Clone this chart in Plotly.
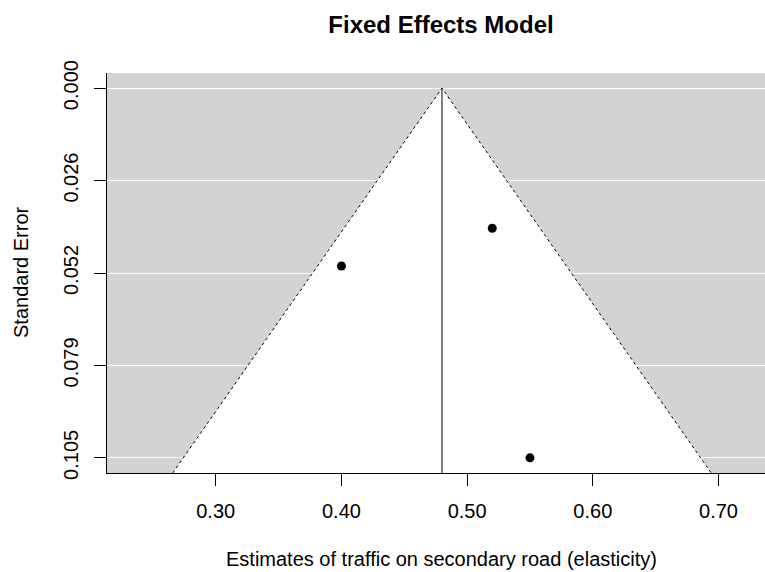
import plotly.graph_objects as go

# Data
estimates = [0.40, 0.52, 0.55]
std_errors = [0.0505, 0.0398, 0.105]
fixed_est = 0.480
x_ticks = [0.30, 0.40, 0.50, 0.60, 0.70]
x_tick_labels = ["0.30", "0.40", "0.50", "0.60", "0.70"]
y_ticks = [0.0, 0.02625, 0.0525, 0.07875, 0.105]
y_tick_labels = ["0.000", "0.026", "0.052", "0.079", "0.105"]

y_lo, y_hi = -0.0043, 0.1093
x_lo, x_hi = 0.2135, 0.737
z = 1.96

FONT = "Liberation Sans, Arial, sans-serif"

fig = go.Figure()

# white funnel region
fig.add_trace(go.Scatter(
    x=[fixed_est - z * y_hi, fixed_est, fixed_est + z * y_hi],
    y=[y_hi, 0.0, y_hi],
    mode="lines", fill="toself", fillcolor="white",
    line=dict(color="black", width=1, dash="dot"),
    hoverinfo="skip", showlegend=False))

# reference line
fig.add_trace(go.Scatter(
    x=[fixed_est, fixed_est], y=[0.0, y_hi], mode="lines",
    line=dict(color="black", width=1), hoverinfo="skip", showlegend=False))

# study points
fig.add_trace(go.Scatter(
    x=estimates, y=std_errors, mode="markers",
    marker=dict(color="black", size=9), showlegend=False))

fig.update_layout(
    width=765, height=572,
    margin=dict(l=107, r=0, t=73, b=99),
    paper_bgcolor="white", plot_bgcolor="#d3d3d3",
    font=dict(family=FONT, size=20, color="black"),
    showlegend=False,
    title=dict(text="<b>Fixed Effects Model</b>", x=441 / 765, xref="container",
               xanchor="center", y=1 - 25 / 572, yref="container", yanchor="middle",
               font=dict(size=24, family=FONT, color="black")),
    xaxis=dict(range=[x_lo, x_hi], tickvals=x_ticks, ticktext=x_tick_labels,
               showgrid=False, zeroline=False, showline=True, linecolor="black",
               linewidth=1, ticks="outside", ticklen=12, tickcolor="black",
               ticklabelstandoff=8, tickfont=dict(size=20)),
    yaxis=dict(range=[y_hi, y_lo], tickvals=y_ticks, ticktext=y_tick_labels,
               showgrid=True, gridcolor="white", gridwidth=1, zeroline=False,
               showline=True, linecolor="black", linewidth=1, ticks="outside",
               ticklen=12, tickcolor="black", tickangle=-90,
               ticklabelstandoff=8, tickfont=dict(size=20)),
    annotations=[
        dict(text="Estimates of traffic on secondary road (elasticity)",
             xref="paper", yref="paper", x=(441.5 - 107) / 658, y=-(559 - 473) / 400,
             xanchor="center", yanchor="middle", showarrow=False,
             font=dict(size=20, family=FONT)),
        dict(text="Standard Error", xref="paper", yref="paper",
             x=-(107 - 21) / 658, y=(473 - 272) / 400, textangle=-90,
             xanchor="center", yanchor="middle", showarrow=False,
             font=dict(size=20, family=FONT)),
    ],
)

fig.write_html("out.html")
